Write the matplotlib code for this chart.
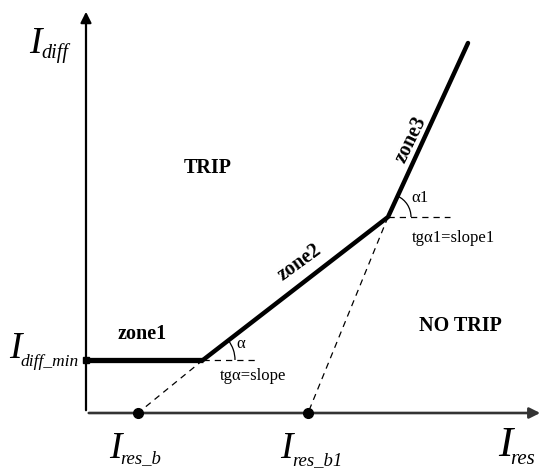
import matplotlib
matplotlib.use("Agg")
import matplotlib.pyplot as plt
from matplotlib.patches import Arc
import numpy as np

plt.rcParams['font.family'] = ['Liberation Serif', 'DejaVu Serif']

# characteristic (data units)
char_x = [0, 117, 302, 382]
char_y = [53, 53, 196, 370]
I_res_b = 52
I_res_b1 = 222
I_diff_min = 53

fig = plt.figure(figsize=(5.45, 4.68), dpi=100)
ax = fig.add_axes([0, 0, 1, 1])
ax.set_xlim(-86, 459)
ax.set_ylim(-55, 413)
ax.axis('off')

# axes with arrows
ax.annotate('', xy=(0, 404), xytext=(0, 0),
            arrowprops=dict(arrowstyle='-|>', lw=1.6, color='black', mutation_scale=16))
ax.annotate('', xy=(457, 0), xytext=(0, 0),
            arrowprops=dict(arrowstyle='-|>', lw=1.9, color='#333333', mutation_scale=16))

# characteristic
ax.plot(char_x[:2], char_y[:2], color='black', lw=3.8, solid_capstyle='butt', zorder=3)
ax.plot(char_x[1:], char_y[1:], color='black', lw=3.2, solid_joinstyle='round', solid_capstyle='round', zorder=3)

# dashed helper lines
dash = (0, (5, 4))
ax.plot([char_x[1], I_res_b], [char_y[1], 0], color='black', lw=0.9, ls=dash)
ax.plot([char_x[2], I_res_b1], [char_y[2], 0], color='black', lw=0.9, ls=dash)
ax.plot([char_x[1], char_x[1] + 52], [char_y[1], char_y[1]], color='black', lw=0.9, ls=dash)
ax.plot([char_x[2], char_x[2] + 62], [char_y[2], char_y[2]], color='black', lw=0.9, ls=dash)

# dots
ax.plot([I_res_b, I_res_b1], [0, 0], 'o', color='black', ms=7, zorder=4)
ax.plot([0], [I_diff_min], 's', color='black', ms=5, zorder=4)

# angle arcs
a1 = np.degrees(np.arctan2(char_y[2] - char_y[1], char_x[2] - char_x[1]))
a2 = np.degrees(np.arctan2(char_y[3] - char_y[2], char_x[3] - char_x[2]))
ax.add_patch(Arc((char_x[1], char_y[1]), 64, 64, theta1=0, theta2=a1, lw=0.9, color='black'))
ax.add_patch(Arc((char_x[2], char_y[2]), 46, 46, theta1=0, theta2=a2, lw=0.9, color='black'))


def P(px, py):
    return px - 86, 413 - py


def sublabel(px, py, sub, sx, sy, big=27, small=13.5):
    x, y = P(px, py)
    ax.text(x, y, 'I', fontsize=big, style='italic', ha='left', va='baseline')
    x2, y2 = P(sx, sy)
    ax.text(x2, y2, sub, fontsize=small, style='italic', ha='left', va='baseline')


sublabel(29, 53, 'diff', 41, 58, small=14.5)
sublabel(9, 358, 'diff_min', 20, 366, small=12.5)
sublabel(109, 458, 'res_b', 120, 463)
sublabel(280, 458, 'res_b1', 292, 465)
sublabel(498, 456, 'res', 510, 464, big=31, small=15)

ax.text(*P(208, 168), 'TRIP', fontsize=14.5, fontweight='bold', ha='center', va='center')
ax.text(*P(460, 326), 'NO TRIP', fontsize=14.5, fontweight='bold', ha='center', va='center')
ax.text(*P(142, 334), 'zone1', fontsize=14.5, fontweight='bold', ha='center', va='center')
ax.text(*P(300, 262), 'zone2', fontsize=14.5, fontweight='bold', ha='center', va='center', rotation=36)
ax.text(*P(411, 140), 'zone3', fontsize=14.5, fontweight='bold', ha='center', va='center', rotation=64)

ax.text(*P(241, 344), 'α', fontsize=12, ha='center', va='center')
ax.text(*P(220, 376), 'tgα=slope', fontsize=12, ha='left', va='center')
ax.text(*P(420, 198), 'α1', fontsize=12, ha='center', va='center')
ax.text(*P(412, 238), 'tgα1=slope1', fontsize=12, ha='left', va='center')

fig.savefig('out.png', dpi=100)
